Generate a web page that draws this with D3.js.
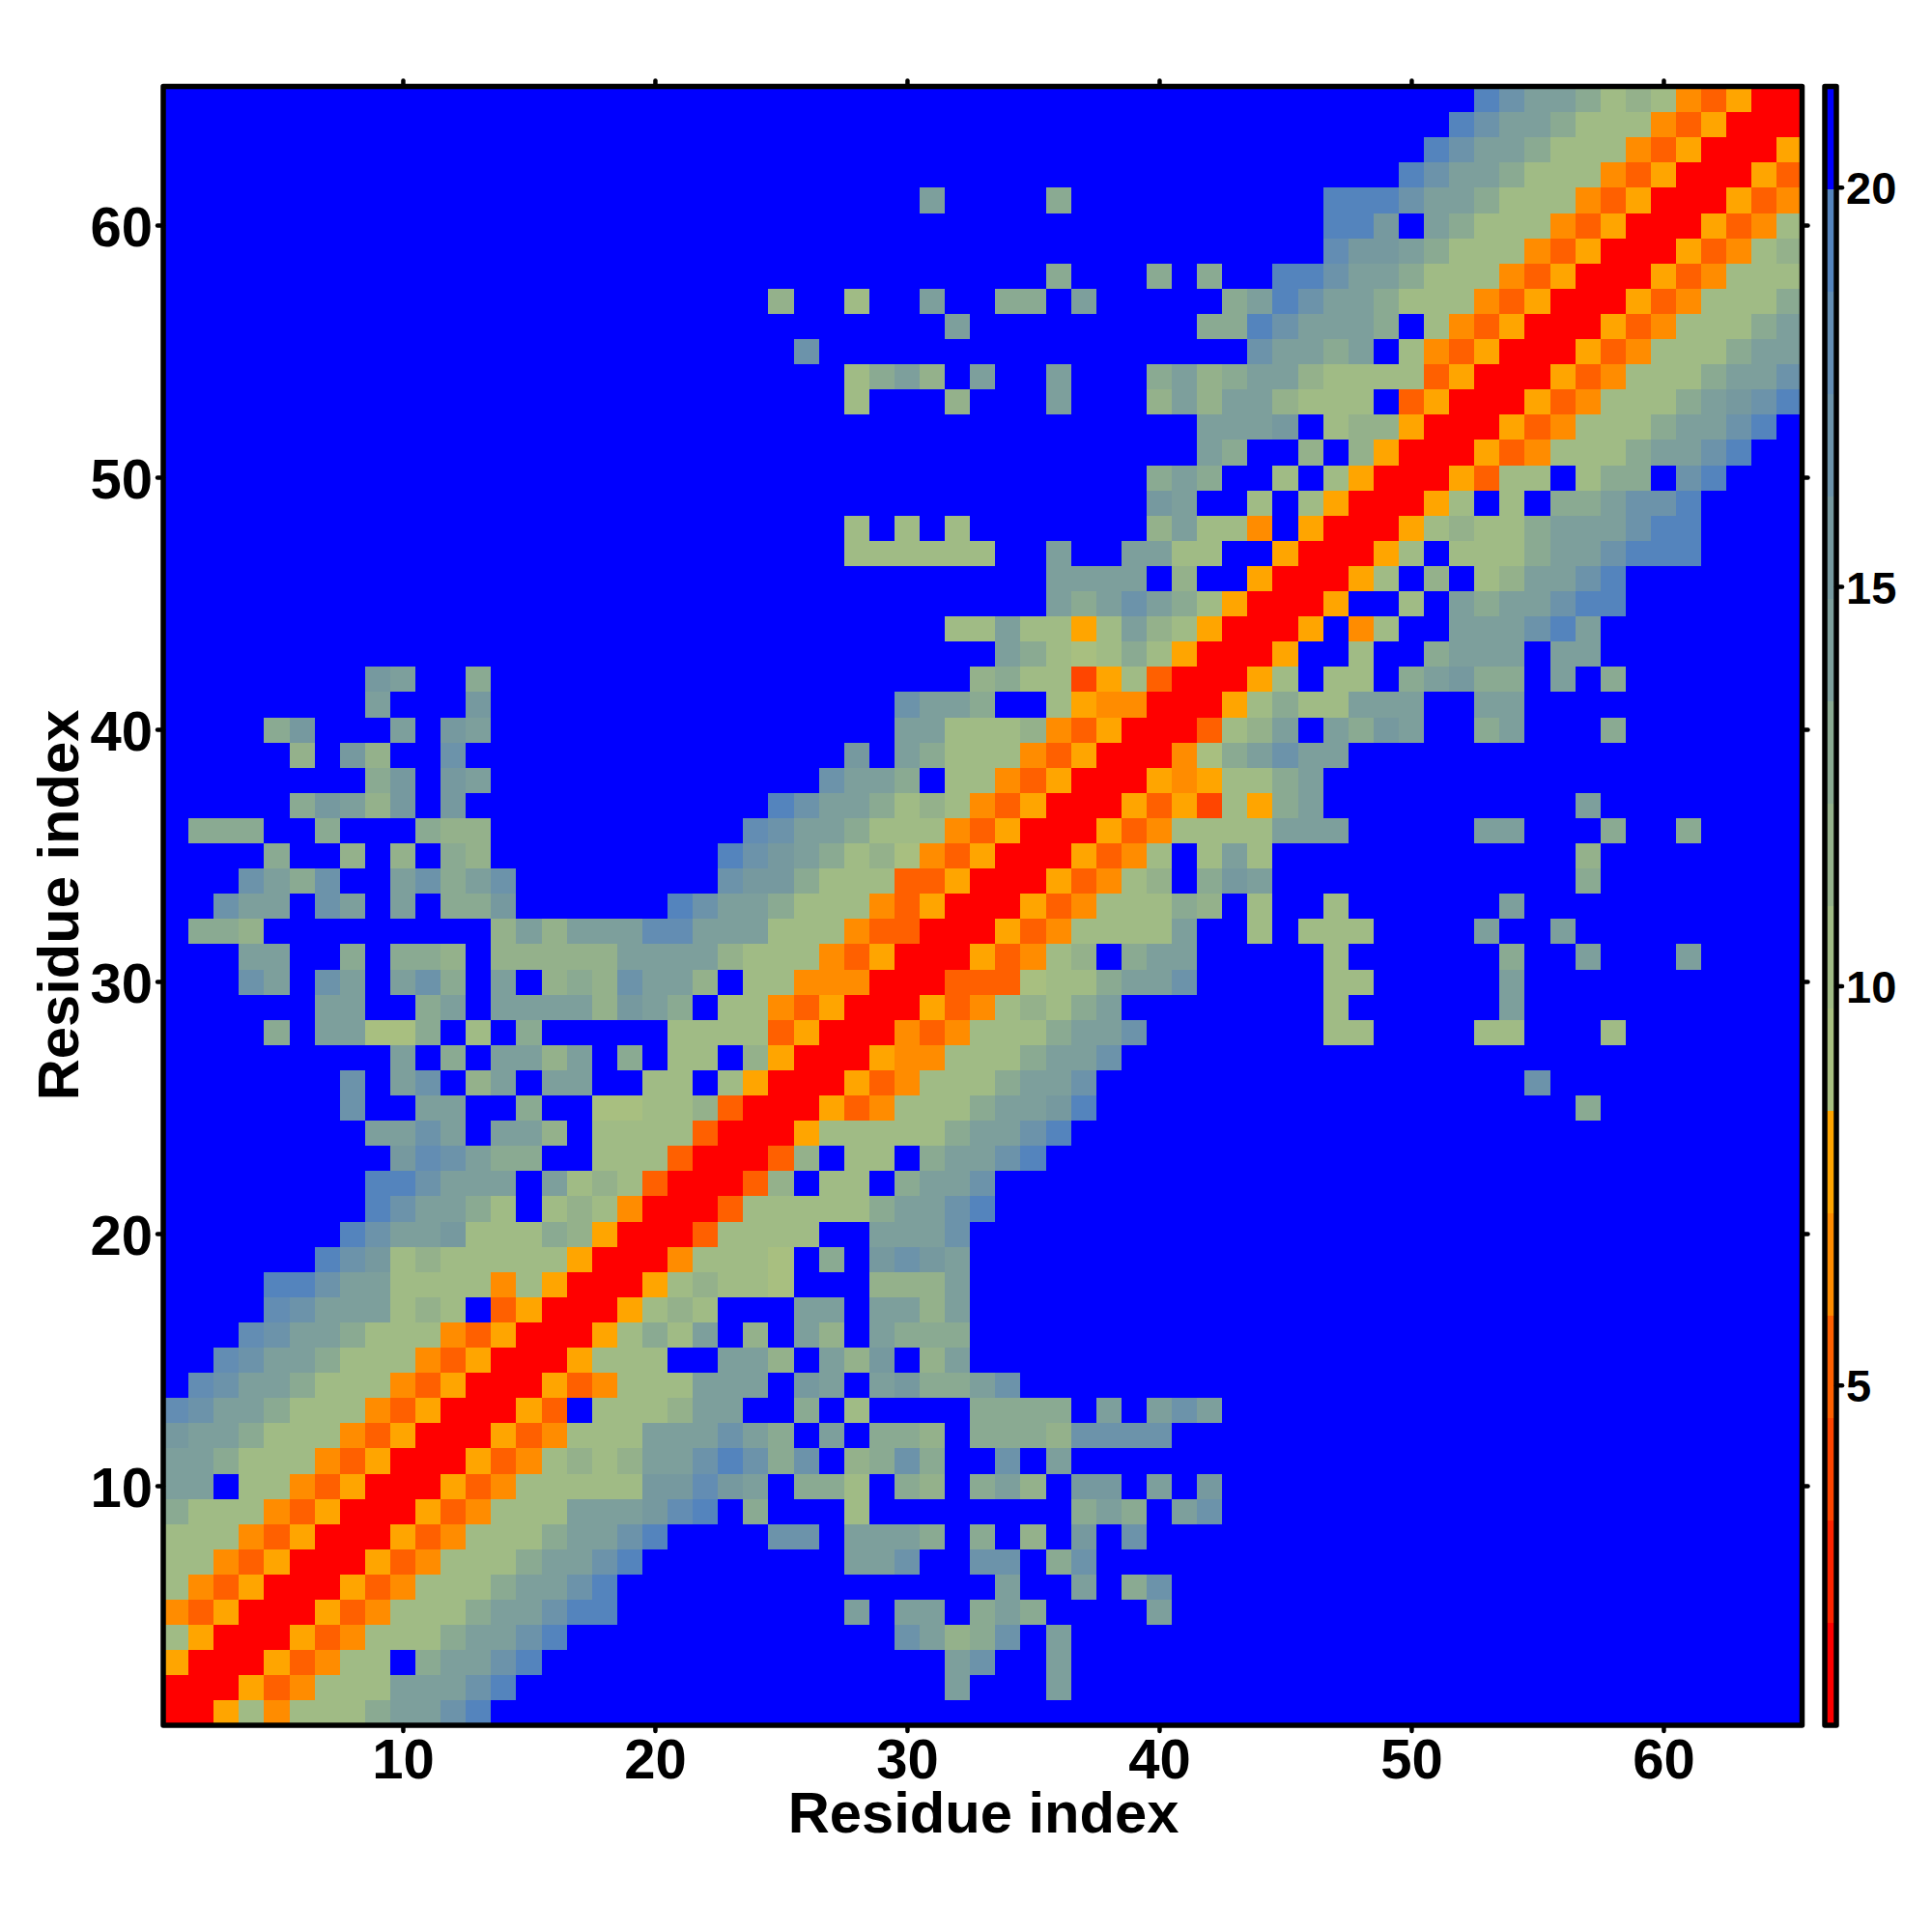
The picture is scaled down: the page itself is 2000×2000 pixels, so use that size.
<!DOCTYPE html>
<html><head><meta charset="utf-8">
<script src="https://cdn.jsdelivr.net/npm/d3@7"></script>
<style>html,body{margin:0;padding:0;background:#fff}svg{display:block}
text{font-family:"Liberation Sans",Arial,sans-serif;font-weight:700;fill:#000}</style>
</head><body><div id="chart"></div>
<script>
// Colour-bin code of each cell: one hex digit per residue column.
// First string = residue 1 (bottom row), last = residue 65 (top row).
const binCodes = [
"00574 7779a aceff fffff fffff fffff fffff fffff fffff fffff fffff fffff fffff",
"00053 4777a aacef fffff fffff fffff fafff affff fffff fffff fffff fffff fffff",
"50005 3477f 9aace fffff fffff fffff facff affff fffff fffff fffff fffff fffff",
"75000 53477 79aac effff fffff ffffc a89cf affff fffff fffff fffff fffff fffff",
"43500 05347 779aa ceeff fffff ffafa af9a9 ffffa fffff fffff fffff fffff fffff",
"74350 00534 7779a aceff fffff fffff fffaf faf9c fffff fffff fffff fffff fffff",
"77435 00053 47779 aacef fffff ffaac ffccf 9cfff fffff fffff fffff fffff fffff",
"77743 50005 34777 9aace ffffc cfaaa 9f9f8 fbfcf fffff fffff fffff fffff fffff",
"97774 35000 53477 7aaab def9f ff7ff fffff f9a9f acfff fffff fffff fffff fffff",
"aaf77 43500 05347 7777b bdbaf 997f9 8f9a8 fbbfa fbfff fffff fffff fffff fffff",
"aa977 74350 00534 7878a acec9 cf89c 9ffcf affff fffff fffff fffff fffff fffff",
"baa97 77435 00053 4777a aaca9 faf99 8f999 8cccc fffff fffff fffff fffff fffff",
"dcaa9 77743 50005 3f777 8aaff 9f7ff ff999 9fafa cafff fffff fffff fffff fffff",
"fdcaa 97774 35000 53477 7aaaf bafab 99acf fffff fffff fffff fffff fffff fffff",
"ffdca a9777 43500 05777 ffaa8 fa8bf 8afff fffff fffff fffff fffff fffff fffff",
"fffdc aa977 74350 00579 7af8f a8fa9 99fff fffff fffff fffff fffff fffff fffff",
"ffffd caaa7 87f35 00057 87fff aafaa 8afff fffff fffff fffff fffff fffff fffff",
"ffffe ecaa7 77747 50005 78776 fff88 8afff fffff fffff fffff fffff fffff fffff",
"fffff fecb7 87777 75000 47776 f9fbc bafff fffff fffff fffff fffff fffff fffff",
"fffff ffeca ab777 98500 03777 7ffaa acfff fffff fffff fffff fffff fffff fffff",
"fffff fffec aa97f 78740 00377 7779a aceff fffff fffff fffff fffff fffff fffff",
"fffff fffee caaaf a7873 00038 f77f9 aacff fffff fffff fffff fffff fffff fffff",
"fffff ffffb dca99 ff777 30003 8f77f 9aace fffff fffff fffff fffff fffff fffff",
"fffff fffaa cafaa 8f777 73000 57777 79aac effff fffff fffff fffff fffff fffff",
"fffff ffcff aaff9 ff667 78300 05347 779aa befff fffff fffff fffff f9fff fffff",
"fffff ffcfa cf8af aaff7 7f750 00534 7779a acfff fffff fffff ffffc fffff fffff",
"fffff ffffa f9faa 8af9f 77f85 00054 47779 aacff fffff fffff fffff fffff fffff",
"ffff9 faa66 9f7f9 fffff 77773 50004 34777 9aacf fffff f77ff ff77f ff7ff fffff",
"fffff faaff 9afaa aa8ba 9f774 35000 53478 79aff fffff f7fff fffaf fffff fffff",
"fffca fcafa c9faf 898ca a8f77 44400 03336 779aa cffff f77ff fffaf fffff fffff",
"fffaa ff9f9 98f88 888aa aa877 74350 00534 78f9a affff f7fff fff9f fafff affff",
"f998f fffff fff8a 8aaad daaa7 77433 00053 47777 aff7f 777ff ffaff affff fffff",
"ffcaa fcafa f99bf fffff ecaa9 77743 50005 34777 98f7f f7fff fffaf fffff fffff",
"fffca 9cffa c9acf fffff ffcbb 97773 35000 53478 f9baf fffff fffff f9fff fffff",
"ffff9 ff8f8 f98ff fffff ffecb a9786 43500 05347 f7a7f fffff fffff f8fff fffff",
"f999f f9fff 988ff fffff fffdc aa977 74350 00534 7777a aafff ffaaf ff9ff 9ffff",
"fffff 9ba8b fbfff fffff ffffe caa97 87435 00053 52759 affff fffff fafff fffff",
"fffff fff9b fbaff fffff fffff fcaa9 f7743 50005 45779 affff fffff fffff fffff",
"fffff 8fb8f fcfff fffff fffff ffbfa 97774 35000 469ac aafff fffff fffff fffff",
"ffff9 bfffa fbaff fffff fffff ffffa a7778 43500 0378a fa9ba ff9af ff9ff fffff",
"fffff fffaf ffbff fffff fffff ffffc aa9ff 75440 00579 77aaa ffaaf fffff fffff",
"fffff fffba ff9ff fffff fffff fffff ff897 72573 00057 f77f9 ab99f af9ff fffff",
"fffff fffff fffff fffff fffff fffff fffa9 76797 50005 ff7ff 9aaaf aafff fffff",
"fffff fffff fffff fffff fffff fffff f77a7 757a8 75000 5f47f faaac eafff fffff",
"fffff fffff fffff fffff fffff fffff fffff a9aca 97500 05ff7 fa9aa ceeff fffff",
"fffff fffff fffff fffff fffff fffff fffff aaaaf 8ff50 0057f 8f78a aceff fffff",
"fffff fffff fffff fffff fffff ff777 777ff affaa 77ff5 00057 f7779 aacee effff",
"fffff fffff fffff fffff fffff ff7f7 f7fff ffff8 a774f 50005 78779 aaace effff",
"fffff fffff fffff fffff fffff fffff fffff ffffb aff7f 75000 57f7f 99acc effff",
"fffff fffff fffff fffff fffff fffff fffff ffff9 a9ff7 f7500 05377 f799f cefff",
"fffff fffff fffff fffff fffff fffff fffff fffff fa9ff 8f850 00534 7779a aceff",
"fffff fffff fffff fffff fffff fffff fffff fffff faaab f7885 00053 47779 aacef",
"fffff fffff fffff fffff fffff ff7ff f8fff afff8 a8aa8 777f3 50005 34777 9abce",
"fffff fffff fffff fffff fffff ff79a 8faff afff9 a89aa 87777 35000 53477 79aac",
"fffff fffff fffff fffff fffff cffff fffff fffff fffca a9af7 43500 05347 779aa",
"fffff fffff fffff fffff fffff fffff fafff fffff f99ec aaa9f 74350 00534 7779a",
"fffff fffff fffff fffff ffff8 ff7ff aff99 fafff ff9ae caa97 77435 00053 47779",
"fffff fffff fffff fffff fffff fffff fffff 9fff9 f9ffe ecaa9 77743 50005 34777",
"fffff fffff fffff fffff fffff fffff fffff fffff fffff fdbba 97774 35000 53478",
"fffff fffff fffff fffff fffff fffff fffff fffff fffff feebf a9777 43500 05347",
"fffff fffff fffff fffff fffff fffff affff 9ffff fffff feeec aa977 74350 00534",
"fffff fffff fffff fffff fffff fffff fffff fffff fffff ffffe caa97 77435 00053",
"fffff fffff fffff fffff fffff fffff fffff fffff fffff fffff ecaa9 77743 50005",
"fffff fffff fffff fffff fffff fffff fffff fffff fffff fffff fecaa 97774 35000",
"fffff fffff fffff fffff fffff fffff fffff fffff fffff fffff ffeca a9787 43500"
];
const binColors = ["#ff0000","#ff2400","#ff4500","#ff6000","#ff8c00","#ffa500",
  "#a8bf80","#a0bb85","#94b18b","#8aaa92","#7d9f9c","#76999f","#6c93aa","#638db3","#5484bd","#0000ff"];
const valueMin = 0.74, valueMax = 21.26;
const residueTicks = [10,20,30,40,50,60];
const colorTicks = [5,10,15,20];
const axisTitle = "Residue index";

const nRes = binCodes.length;
const binEdges = d3.range(1, binColors.length).map(i => valueMin + i*(valueMax-valueMin)/binColors.length);
const color = d3.scaleThreshold().domain(binEdges).range(binColors);
const binMid = i => valueMin + (i+0.5)*(valueMax-valueMin)/binColors.length;
const cells = [];
binCodes.forEach((s,r) => {
  const t = s.replace(/\s/g,"");
  if (t.length !== nRes) throw new Error("row "+(r+1)+" has length "+t.length);
  for (let c=0;c<t.length;c++) cells.push({res1:c+1,res2:r+1,value:binMid(parseInt(t[c],16))});
});

const W=2000,H=2000;
const svg = d3.select("#chart").append("svg").attr("width",W).attr("height",H);
const left=169,right=1865.5,top_=89.5,bottom=1786;
const x = d3.scaleLinear().domain([0.5,nRes+0.5]).range([left,right]);
const y = d3.scaleLinear().domain([0.5,nRes+0.5]).range([bottom,top_]);

svg.append("g").attr("shape-rendering","crispEdges").selectAll("rect").data(cells).join("rect")
  .attr("x",d=>x(d.res1-0.5)).attr("y",d=>y(d.res2+0.5))
  .attr("width",d=>x(d.res1+0.5)-x(d.res1-0.5)+0.5)
  .attr("height",d=>y(d.res2-0.5)-y(d.res2+0.5)+0.5)
  .attr("fill",d=>color(d.value));

function styleAxis(g){
  g.select(".domain").remove();
  g.selectAll(".tick line").attr("stroke","#000").attr("stroke-width",4.5).attr("stroke-linecap","round");
  g.selectAll(".tick text").attr("font-size",58).attr("font-family","Liberation Sans").attr("font-weight",700).attr("fill","#000");
}
const tickLen=6;
const gB=svg.append("g").attr("transform",`translate(0,${bottom})`).call(d3.axisBottom(x).tickValues(residueTicks).tickSize(tickLen).tickPadding(0).tickFormat(d3.format("d"))).call(styleAxis);
gB.selectAll(".tick text").attr("dy",null).attr("y",55);
const gL=svg.append("g").attr("transform",`translate(${left},0)`).call(d3.axisLeft(y).tickValues(residueTicks).tickSize(tickLen).tickPadding(0).tickFormat(d3.format("d"))).call(styleAxis);
gL.selectAll(".tick text").attr("x",-11).attr("dy",null).attr("y",21);
svg.append("g").attr("transform",`translate(0,${top_})`).call(d3.axisTop(x).tickValues(residueTicks).tickSize(tickLen).tickFormat("")).call(styleAxis);
svg.append("g").attr("transform",`translate(${right},0)`).call(d3.axisRight(y).tickValues(residueTicks).tickSize(tickLen).tickFormat("")).call(styleAxis);

svg.append("rect").attr("x",left).attr("y",top_).attr("width",right-left).attr("height",bottom-top_)
  .attr("fill","none").attr("stroke","#000").attr("stroke-width",5.5).attr("stroke-linejoin","round");

svg.append("text").attr("x",1018).attr("y",1897).attr("text-anchor","middle").attr("font-size",59.7).text(axisTitle);
svg.append("text").attr("transform","translate(80.5,937) rotate(-90)").attr("text-anchor","middle").attr("font-size",59.7).text(axisTitle);

// colour bar
const cbL=1889,cbR=1901;
const cy=d3.scaleLinear().domain([valueMin,valueMax]).range([bottom,top_]);
const bins=binColors.map((c,i)=>({c,lo:i===0?valueMin:binEdges[i-1],hi:i===binColors.length-1?valueMax:binEdges[i]}));
svg.append("g").attr("shape-rendering","crispEdges").selectAll("rect").data(bins).join("rect")
  .attr("x",cbL).attr("width",cbR-cbL).attr("y",d=>cy(d.hi)).attr("height",d=>cy(d.lo)-cy(d.hi)+0.5).attr("fill",d=>d.c);
const gC=svg.append("g").attr("transform",`translate(${cbR},0)`).call(d3.axisRight(cy).tickValues(colorTicks).tickSize(tickLen).tickPadding(0).tickFormat(d3.format("d"))).call(styleAxis);
gC.selectAll(".tick text").attr("font-size",47).attr("x",10).attr("dy",null).attr("y",17);
svg.append("rect").attr("x",cbL).attr("y",top_).attr("width",cbR-cbL).attr("height",bottom-top_)
  .attr("fill","none").attr("stroke","#000").attr("stroke-width",5.5).attr("stroke-linejoin","round");
</script></body></html>
